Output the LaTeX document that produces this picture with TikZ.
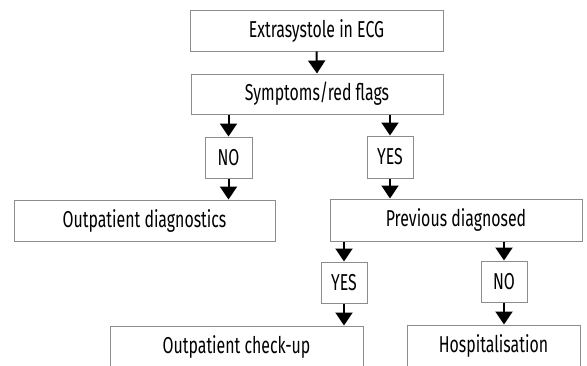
\documentclass[tikz,border=0pt]{standalone}
\usepackage{fontspec}
\setmainfont{Fira Sans}[FakeStretch=0.69]
\usetikzlibrary{arrows.meta}
\begin{document}
\begin{tikzpicture}[x=1pt,y=-1pt,
  box/.style={draw=black!45,line width=1pt,inner sep=0pt,rectangle,font=\fontsize{23}{25}\selectfont},
  arr/.style={line width=2pt,-{Triangle[width=17pt,length=13pt]}}]
\useasboundingbox (0,0) rectangle (587,365);
\clip (0,0) rectangle (587,365);
\node[box,minimum width=253pt,minimum height=41pt] (ecg) at (316.5,30.5) {Extrasystole in ECG};
\node[box,minimum width=252pt,minimum height=40pt] (sym) at (317,94) {Symptoms/red flags};
\node[box,minimum width=47pt,minimum height=41pt] (no1) at (228.5,157.5) {NO};
\node[box,minimum width=46pt,minimum height=42pt] (yes1) at (390,157) {YES};
\node[box,minimum width=261pt,minimum height=41pt] (od) at (144.5,220.5) {Outpatient diagnostics};
\node[box,minimum width=252pt,minimum height=42pt] (pd) at (456,220) {Previous diagnosed};
\node[box,minimum width=46pt,minimum height=41pt] (yes2) at (344,282.5) {YES};
\node[box,minimum width=46pt,minimum height=41pt] (no2) at (504,281.5) {NO};
\node[box,minimum width=253pt,minimum height=41pt] (oc) at (236.5,346.5) {Outpatient check-up};
\node[box,minimum width=173pt,minimum height=41pt] (hosp) at (493.5,345.5) {Hospitalisation};
\draw[arr] (ecg.south) -- (sym.north);
\draw[arr] (sym.south -| no1.north) -- (no1.north);
\draw[arr] (no1.south) -- (od.north -| no1.south);
\draw[arr] (sym.south -| yes1.north) -- (yes1.north);
\draw[arr] (yes1.south) -- (pd.north -| yes1.south);
\draw[arr] (pd.south -| yes2.north) -- (yes2.north);
\draw[arr] (yes2.south) -- (oc.north -| yes2.south);
\draw[arr] (pd.south -| no2.north) -- (no2.north);
\draw[arr] (no2.south) -- (hosp.north -| no2.south);
\end{tikzpicture}
\end{document}
